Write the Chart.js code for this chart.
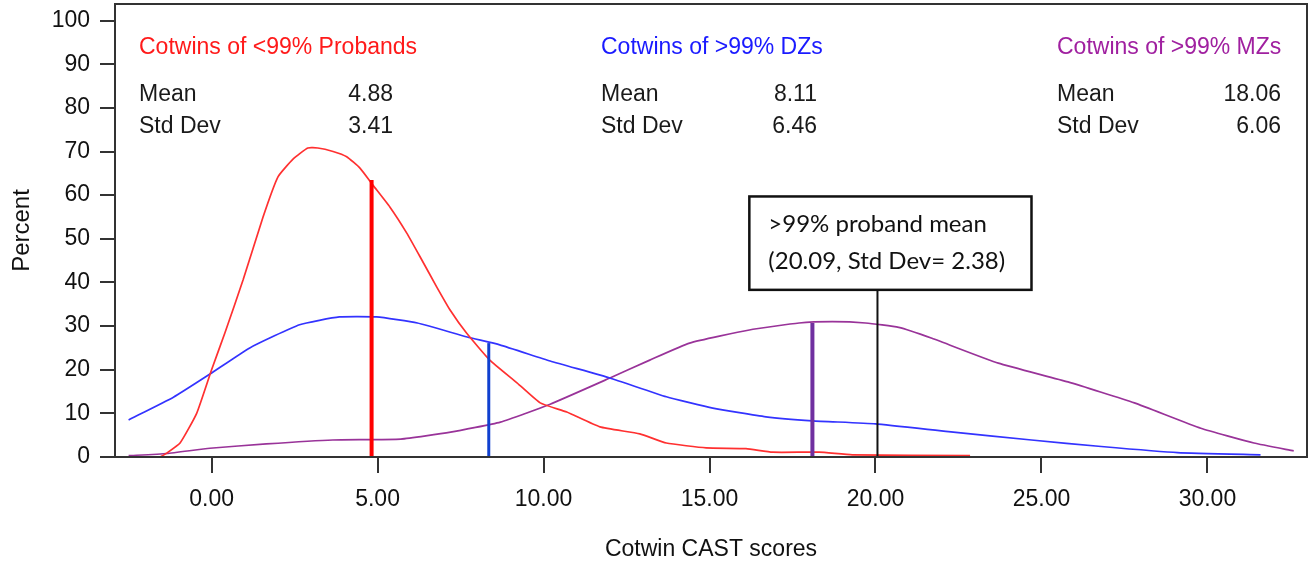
<!DOCTYPE html>
<html>
<head>
<meta charset="utf-8">
<script src="https://cdn.jsdelivr.net/npm/chart.js@4/dist/chart.umd.min.js"></script>
<style>
  html, body { margin: 0; padding: 0; background: #fff; }
  canvas { display: block; }
</style>
</head>
<body>
<canvas id="castChart" width="1314" height="567"></canvas>
<script>
// curves (x = CAST score, y = percent)
const redX = [-1.55, -1.35, -0.95, -0.45, 0, 0.4, 0.95, 1.55, 2.0, 2.46, 2.9, 3.2, 3.66, 4.07, 4.47, 4.86, 5.37, 5.88, 6.33, 6.78, 7.2, 7.68, 8.38, 9.2, 9.9, 10.7, 11.7, 12.9, 13.7, 14.9, 16.1, 16.9, 18.3, 19.3, 22.85];
const redY = [0, 0.9, 3.2, 10, 20, 28.4, 40.6, 55, 64.2, 68.3, 70.8, 70.8, 70, 68.8, 66.2, 62.3, 57.3, 51.3, 45.2, 39, 33.5, 28.4, 22.2, 17, 12.4, 10.3, 6.9, 5.3, 3.2, 2.1, 1.9, 1.1, 1.1, 0.5, 0.3];

const blueX = [-2.5, -1.15, -0.05, 1.15, 2.65, 3.85, 4.97, 6.2, 7.7, 8.68, 10.2, 12.0, 13.7, 15.1, 16.7, 18.1, 20.0, 22.2, 24.7, 26.8, 29.1, 31.6];
const blueY = [8.5, 13.7, 19, 25, 30.3, 32.1, 32.1, 30.7, 27.5, 25.7, 22, 18.1, 13.8, 11.2, 9.2, 8.3, 7.6, 5.8, 3.9, 2.4, 1.0, 0.5];

const purpleX = [-2.5, -1.35, -0.05, 1.65, 3.65, 5.7, 7.2, 8.7, 10.2, 12.0, 13.2, 14.4, 16.2, 17.7, 18.7, 19.7, 20.7, 21.7, 23.7, 25.8, 27.8, 29.8, 31.4, 32.6];
const purpleY = [0.3, 0.8, 2, 3, 3.9, 4.1, 5.7, 8, 12.1, 18.1, 22.2, 26.1, 29.1, 30.7, 31, 30.7, 29.7, 27.2, 21.5, 17.2, 12.4, 6.6, 3.2, 1.4];

// mean markers: position and height of each bar
const meanX = [4.82, 8.35, 18.1];
const meanTop = [63.5, 26.1, 30.7];
const probandMean = 20.06;
const probandTop = 38.3;
const calloutBox = [16.2, 24.7, 59.7, 38.3]; // x1, x2, y top, y bottom

const groupTitles = ["Cotwins of <99% Probands", "Cotwins of >99% DZs", "Cotwins of >99% MZs"];
const groupMeans = ["4.88", "8.11", "18.06"];
const groupSds = ["3.41", "6.46", "6.06"];
const xTicks = [0, 5, 10, 15, 20, 25, 30];
const yTicks = [0, 10, 20, 30, 40, 50, 60, 70, 80, 90, 100];

const FONT = "'Liberation Sans', Arial, sans-serif";
const curveColors = ["#ff3030", "#3333ff", "#993399"];
const barColors = ["#ff0000", "#1040d0", "#7030a0"];
const titleColors = ["#ff1a1a", "#1a1aff", "#a020a0"];

function pts(xs, ys) {
    return xs.map((x, i) => ({ x: x, y: ys[i] }));
}

const datasets = [];
meanX.forEach((x, i) => {
    datasets.push({
        type: "line",
        data: [{ x: x, y: 0 }, { x: x, y: meanTop[i] }],
        borderColor: barColors[i],
        borderWidth: i == 1 ? 3 : 4,
        pointRadius: 0
    });
});
datasets.push({
    type: "line",
    data: [{ x: probandMean, y: 0 }, { x: probandMean, y: probandTop }],
    borderColor: "#111",
    borderWidth: 2,
    pointRadius: 0
});
[[redX, redY], [blueX, blueY], [purpleX, purpleY]].forEach((s, i) => {
    datasets.push({
        type: "line",
        data: pts(s[0], s[1]),
        borderColor: curveColors[i],
        borderWidth: 1.7,
        pointRadius: 0,
        tension: 0.15
    });
});

const annotations = {
    id: "annotations",
    afterDraw(chart) {
        const c = chart.ctx;
        const a = chart.chartArea;
        const xs = chart.scales.x, ys = chart.scales.y;
        c.save();
        // frame
        c.strokeStyle = "#333";
        c.lineWidth = 2;
        c.strokeRect(a.left, a.top, a.right - a.left, a.bottom - a.top);

        // group stats
        const lefts = [139, 601, 1057];
        const rights = [393, 817, 1281];
        c.font = "23px " + FONT;
        c.textBaseline = "middle";
        for (let i = 0; i < 3; i++) {
            c.fillStyle = titleColors[i];
            c.textAlign = "left";
            c.fillText(groupTitles[i], lefts[i], 48);
            c.fillStyle = "#1a1a1a";
            c.fillText("Mean", lefts[i], 95);
            c.fillText("Std Dev", lefts[i], 127);
            c.textAlign = "right";
            c.fillText(groupMeans[i], rights[i], 95);
            c.fillText(groupSds[i], rights[i], 127);
        }

        // callout box
        const bx1 = xs.getPixelForValue(calloutBox[0]);
        const bx2 = xs.getPixelForValue(calloutBox[1]);
        const by1 = ys.getPixelForValue(calloutBox[2]);
        const by2 = ys.getPixelForValue(calloutBox[3]);
        c.fillStyle = "#fff";
        c.fillRect(bx1, by1, bx2 - bx1, by2 - by1);
        c.strokeStyle = "#111";
        c.lineWidth = 2.5;
        c.strokeRect(bx1, by1, bx2 - bx1, by2 - by1);
        c.fillStyle = "#111";
        c.textAlign = "left";
        c.font = "24px Lato, 'Open Sans', sans-serif";
        c.fillText(">99% proband mean", bx1 + 19, by1 + 28);
        c.fillText("(20.09, Std Dev= 2.38)", bx1 + 19, by1 + 65);
        c.restore();
    }
};

new Chart(document.getElementById("castChart"), {
    type: "scatter",
    data: { datasets: datasets },
    options: {
        responsive: false,
        animation: false,
        layout: { padding: { top: 4, right: 7, left: 0, bottom: 0 } },
        plugins: {
            legend: { display: false },
            tooltip: { enabled: false }
        },
        scales: {
            x: {
                type: "linear",
                min: -2.91,
                max: 33,
                afterBuildTicks: s => { s.ticks = xTicks.map(v => ({ value: v })); },
                afterFit: s => { s.height = 110; s.paddingLeft = 0; s.paddingRight = 0; },
                ticks: {
                    callback: v => v.toFixed(2),
                    color: "#111",
                    font: { family: FONT, size: 23 },
                    padding: 13,
                    maxRotation: 0
                },
                grid: { drawOnChartArea: false, tickLength: 16, color: "#333", lineWidth: 2 },
                border: { color: "#333", width: 2 },
                title: {
                    display: true,
                    text: "Cotwin CAST scores",
                    color: "#111",
                    font: { family: FONT, size: 23 },
                    padding: { top: 0, bottom: 4 }
                }
            },
            y: {
                min: 0,
                max: 103.8,
                afterBuildTicks: s => { s.ticks = yTicks.map(v => ({ value: v })); },
                afterFit: s => { s.width = 115; s.paddingTop = 0; s.paddingBottom = 0; },
                ticks: {
                    color: "#111",
                    font: { family: FONT, size: 23 },
                    padding: 10
                },
                grid: { drawOnChartArea: false, tickLength: 15, color: "#333", lineWidth: 2 },
                border: { color: "#333", width: 2 },
                title: {
                    display: true,
                    text: "Percent",
                    color: "#111",
                    font: { family: FONT, size: 24 },
                    padding: { top: 8, bottom: 0 }
                }
            }
        }
    },
    plugins: [annotations]
});
</script>
</body>
</html>
